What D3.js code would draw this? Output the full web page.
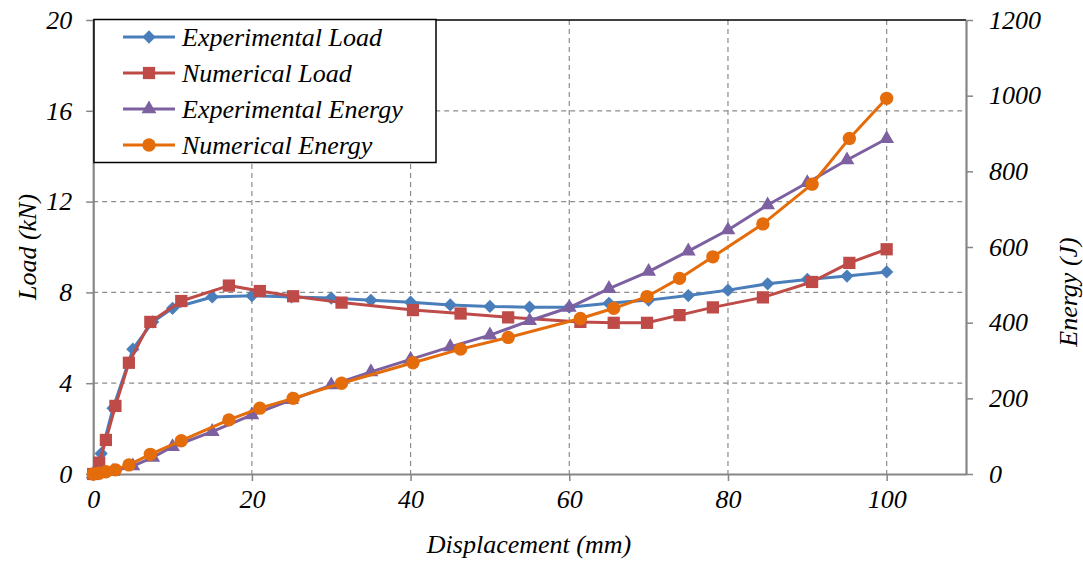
<!DOCTYPE html>
<html>
<head>
<meta charset="utf-8">
<script src="https://cdn.jsdelivr.net/npm/d3@7"></script>
<style>
  body { margin: 0; background: #fff; }
  svg text { font-family: "Liberation Serif", "Times New Roman", serif; font-style: italic; fill: #000; }
</style>
</head>
<body>
<svg id="chart" width="1083" height="565"></svg>
<script>
// Displacement (mm) for the experimental and numerical runs
const expDisp = [0, 1, 2.5, 5, 7.5, 10, 15, 20, 25, 30, 35, 40, 45, 50, 55, 60, 65, 70, 75, 80, 85, 90, 95, 100];
const numDisp = [0, 0.75, 1.6, 2.8, 4.5, 7.2, 11.1, 17.1, 21, 25.2, 31.3, 40.3, 46.3, 52.3, 61.4, 65.6, 69.8, 73.9, 78.1, 84.4, 90.6, 95.3, 100];

// Load (kN)
const expLoad = [0, 0.9, 2.9, 5.5, 6.7, 7.3, 7.8, 7.85, 7.8, 7.75, 7.65, 7.57, 7.45, 7.38, 7.35, 7.35, 7.52, 7.66, 7.86, 8.1, 8.38, 8.57, 8.72, 8.9];
const numLoad = [0, 0.5, 1.5, 3.0, 4.9, 6.7, 7.62, 8.3, 8.06, 7.83, 7.55, 7.22, 7.07, 6.9, 6.7, 6.66, 6.66, 7.0, 7.34, 7.78, 8.46, 9.3, 9.9];

// Energy (J)
const expEnergy = [0, 2, 7, 21, 44, 72, 112, 156, 196, 235, 270, 303, 336, 367, 405, 440, 490, 535, 589, 645, 711, 770, 830, 886];
const numEnergy = [0, 2, 6, 11, 24, 52, 88, 143, 174, 200, 240, 294, 330, 361, 411, 438, 469, 517, 574, 661, 766, 887, 993];

const xTicks = [0, 20, 40, 60, 80, 100];
const loadTicks = [0, 4, 8, 12, 16, 20];
const energyTicks = [0, 200, 400, 600, 800, 1000, 1200];

const series = [
  { name: 'Experimental Load', xs: expDisp, ys: expLoad, axis: 'left', color: '#4A7EBB', marker: 'diamond' },
  { name: 'Numerical Load', xs: numDisp, ys: numLoad, axis: 'left', color: '#BE4B48', marker: 'square' },
  { name: 'Experimental Energy', xs: expDisp, ys: expEnergy, axis: 'right', color: '#7D60A0', marker: 'triangle' },
  { name: 'Numerical Energy', xs: numDisp, ys: numEnergy, axis: 'right', color: '#E46C0A', marker: 'circle' }
];

const svg = d3.select('#chart');
const plotLeft = 93.2, plotRight = 966, plotTop = 20, plotBottom = 474;
const GRID = '#8c8c8c';
const AXIS = '#868686';
const FONT = '"Liberation Serif", "Times New Roman", serif';

const x = d3.scaleLinear().domain([0, 110]).range([plotLeft, plotRight]);
const yLoad = d3.scaleLinear().domain([0, 20]).range([plotBottom, plotTop]);
const yEnergy = d3.scaleLinear().domain([0, 1200]).range([plotBottom, plotTop]);

svg.append('rect').attr('width', 1083).attr('height', 565).attr('fill', '#fff');

// dashed grid
svg.append('g').selectAll('line')
  .data(loadTicks.filter(d => d > 0 && d < 20))
  .join('line')
  .attr('x1', plotLeft).attr('x2', plotRight)
  .attr('y1', d => yLoad(d)).attr('y2', d => yLoad(d))
  .attr('stroke', GRID).attr('stroke-width', 1.2).attr('stroke-dasharray', '5,4');

svg.append('g').selectAll('line')
  .data(xTicks.filter(d => d > 0))
  .join('line')
  .attr('x1', d => x(d)).attr('x2', d => x(d))
  .attr('y1', plotTop).attr('y2', plotBottom)
  .attr('stroke', GRID).attr('stroke-width', 1.2).attr('stroke-dasharray', '5,4');

// top border
svg.append('line')
  .attr('x1', plotLeft).attr('x2', plotRight).attr('y1', plotTop).attr('y2', plotTop)
  .attr('stroke', '#000').attr('stroke-width', 1.5);

// axes
const styleAxis = (g) => {
  g.attr('font-family', FONT);
  g.select('.domain').attr('stroke', AXIS).attr('stroke-width', 2.2);
  g.selectAll('.tick line').attr('stroke', AXIS).attr('stroke-width', 1.5);
  g.selectAll('.tick text').attr('font-size', 26).attr('font-style', 'italic').attr('fill', '#000');
};

svg.append('g')
  .attr('transform', `translate(0,${plotBottom})`)
  .call(d3.axisBottom(x).tickValues(xTicks).tickFormat(d3.format('d')).tickSize(7).tickPadding(9).tickSizeOuter(0))
  .call(styleAxis)
  .call(g => g.selectAll('.tick text').attr('dy', '0.71em'));

svg.append('g')
  .attr('transform', `translate(${plotLeft},0)`)
  .call(d3.axisLeft(yLoad).tickValues(loadTicks).tickFormat(d3.format('d')).tickSize(7).tickPadding(14).tickSizeOuter(0))
  .call(styleAxis);

svg.append('g')
  .attr('transform', `translate(${plotRight},0)`)
  .call(d3.axisRight(yEnergy).tickValues(energyTicks).tickFormat(d3.format('d')).tickSize(7).tickPadding(16).tickSizeOuter(0))
  .call(styleAxis);

// axis titles
svg.append('text')
  .attr('transform', `translate(36,${(plotTop + plotBottom) / 2}) rotate(-90)`)
  .attr('text-anchor', 'middle').attr('font-size', 26).attr('font-family', FONT)
  .text('Load (kN)');

svg.append('text')
  .attr('transform', `translate(1077,${(plotTop + plotBottom) / 2 + 45}) rotate(-90)`)
  .attr('text-anchor', 'middle').attr('font-size', 26).attr('font-family', FONT)
  .text('Energy (J)');

svg.append('text')
  .attr('x', 529).attr('y', 553)
  .attr('text-anchor', 'middle').attr('font-size', 26).attr('font-family', FONT)
  .text('Displacement (mm)');

// markers
const markerPath = (type) => {
  if (type === 'diamond') return d3.symbol(d3.symbolSquare, 88)();
  if (type === 'square') return d3.symbol(d3.symbolSquare, 150)();
  if (type === 'triangle') return d3.symbol(d3.symbolTriangle, 95)();
  return d3.symbol(d3.symbolCircle, 140)();
};
const markerRotate = (type) => type === 'diamond' ? ' rotate(45)' : '';

const plot = svg.append('g');
series.forEach(s => {
  const yScale = s.axis === 'left' ? yLoad : yEnergy;
  const pts = s.xs.map((d, i) => [d, s.ys[i]]);
  const line = d3.line().x(d => x(d[0])).y(d => yScale(d[1]));

  const g = plot.append('g');
  g.append('path')
    .datum(pts)
    .attr('d', line)
    .attr('fill', 'none')
    .attr('stroke', s.color)
    .attr('stroke-width', 3)
    .attr('stroke-linejoin', 'round');

  g.selectAll('path.m')
    .data(pts)
    .join('path')
    .attr('class', 'm')
    .attr('d', markerPath(s.marker))
    .attr('transform', d => `translate(${x(d[0])},${yScale(d[1])})${markerRotate(s.marker)}`)
    .attr('fill', s.color);
});

// legend
const legend = svg.append('g');
legend.append('rect')
  .attr('x', 94).attr('y', 19.5).attr('width', 342).attr('height', 143)
  .attr('fill', '#fff').attr('stroke', '#000').attr('stroke-width', 1.5);

const rowY = d3.scalePoint().domain(series.map(s => s.name)).range([37, 145]);
series.forEach(s => {
  const yy = rowY(s.name);
  legend.append('line')
    .attr('x1', 123).attr('x2', 175).attr('y1', yy).attr('y2', yy)
    .attr('stroke', s.color).attr('stroke-width', 3);
  legend.append('path')
    .attr('d', markerPath(s.marker))
    .attr('transform', `translate(149,${yy})${markerRotate(s.marker)}`)
    .attr('fill', s.color);
  legend.append('text')
    .attr('x', 182).attr('y', yy + 9)
    .attr('font-size', 26).attr('font-family', FONT)
    .text(s.name);
});
</script>
</body>
</html>
